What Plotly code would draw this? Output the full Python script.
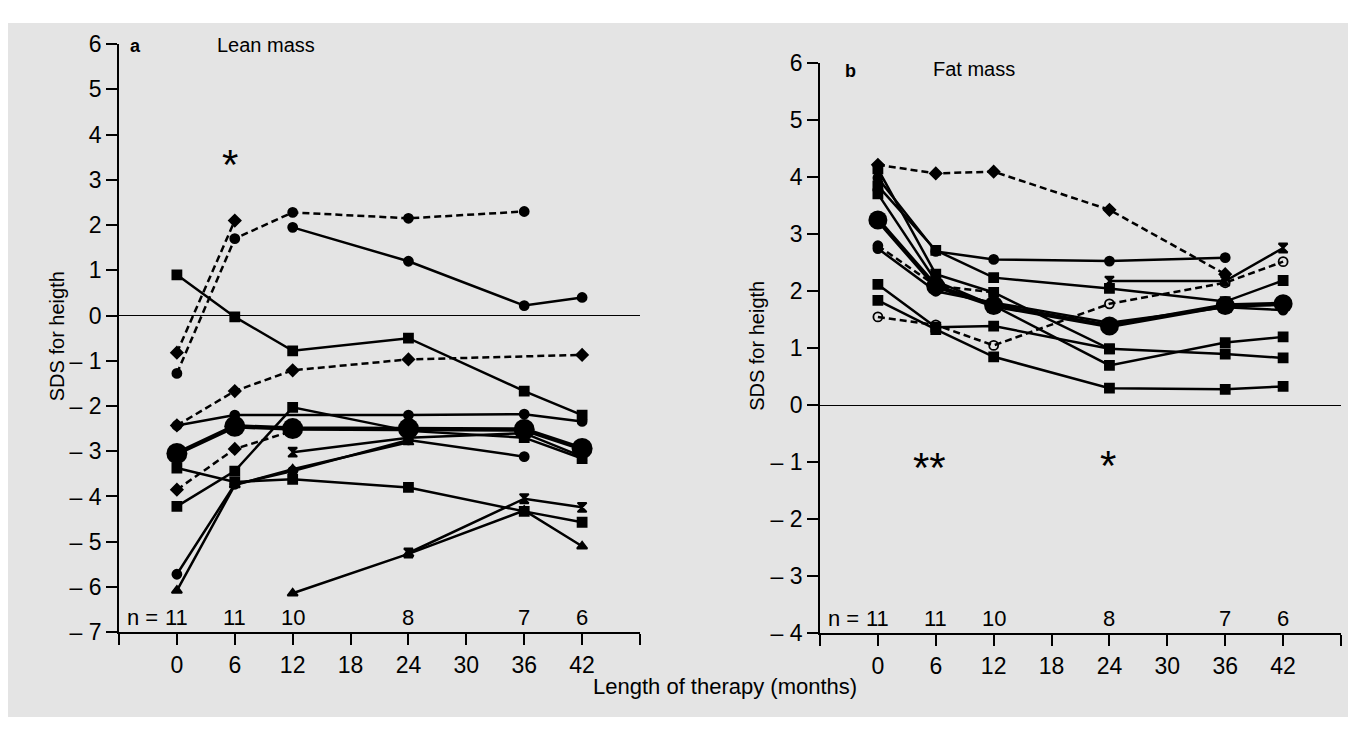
import plotly.graph_objects as go

# ---------------- data ----------------
months = [0, 6, 12, 24, 36, 42]

# Panel a: Lean mass (SDS for height)
lean_p1 = [-0.82, 2.1, None, None, None, None]
lean_p2 = [-1.28, 1.7, 2.28, 2.15, 2.3, None]
lean_p3 = [None, None, 1.95, 1.2, 0.22, 0.4]
lean_p4 = [0.9, -0.03, -0.78, -0.5, -1.67, -2.2]
lean_p5 = [-2.43, -1.67, -1.21, -0.97, None, -0.87]
lean_p6 = [-2.43, -2.2, None, -2.2, -2.18, -2.34]
lean_p7 = [-4.22, -3.44, -2.03, -2.55, -2.7, -3.16]
lean_p8 = [-3.85, -2.95, -2.55, None, None, None]
lean_p9 = [-3.37, -3.68, -3.62, -3.8, -4.33, -4.57]
lean_p10 = [-5.72, -3.73, -3.44, -2.75, -3.12, None]
lean_p11 = [-6.08, -3.75, -3.4, -2.8, None, None]
lean_p12 = [None, None, -6.14, -5.27, -4.31, -5.1]
lean_p13 = [None, None, None, -5.25, -4.05, -4.24]
lean_p14 = [None, None, -3.02, -2.7, -2.6, -3.12]
lean_mean = [-3.05, -2.45, -2.5, -2.5, -2.52, -2.94]

# Panel b: Fat mass (SDS for height)
fat_p1 = [4.22, 4.07, 4.1, 3.43, 2.3, None]
fat_p2 = [1.55, 1.41, 1.05, 1.78, 2.15, 2.52]
fat_p3 = [2.8, 2.1, 1.98, None, None, None]
fat_p4 = [3.99, 2.7, 2.56, 2.53, 2.59, None]
fat_p5 = [3.85, 2.72, 2.24, 2.05, 1.82, 2.19]
fat_p6 = [4.15, 2.3, 1.98, 0.99, 0.9, 0.83]
fat_p7 = [3.71, 2.18, 1.75, 0.7, 1.1, 1.2]
fat_p8 = [None, None, None, 2.18, 2.18, 2.76]
fat_p9 = [2.75, 2.0, 1.8, 1.45, 1.72, 1.67]
fat_p10 = [2.12, 1.37, 1.39, 0.99, None, None]
fat_p11 = [1.84, 1.33, 0.85, 0.3, 0.28, 0.33]
fat_mean = [3.25, 2.09, 1.75, 1.39, 1.75, 1.78]

n_counts = ["11", "11", "10", "8", "7", "6"]

x_tickvals = [-6, 0, 6, 12, 18, 24, 30, 36, 42, 48]
x_ticktext = ["", "0", "6", "12", "18", "24", "30", "36", "42", ""]
ya_tickvals = list(range(-7, 7))
yb_tickvals = list(range(-4, 7))


def ylab(v):
    return "\u2013 %d" % abs(v) if v < 0 else str(v)


ya_ticktext = [ylab(v) for v in ya_tickvals]
yb_ticktext = [ylab(v) for v in yb_tickvals]

# ---------------- styles ----------------
DASH = "7px,4px"
lean_series = [
    (lean_p1, "diamond", DASH), (lean_p2, "circle", DASH), (lean_p3, "circle", "solid"),
    (lean_p4, "square", "solid"), (lean_p5, "diamond", DASH), (lean_p6, "circle", "solid"),
    (lean_p7, "square", "solid"), (lean_p8, "diamond", DASH), (lean_p9, "square", "solid"),
    (lean_p10, "circle", "solid"), (lean_p11, "triangle-up", "solid"),
    (lean_p12, "triangle-up", "solid"), (lean_p13, "hourglass", "solid"),
    (lean_p14, "hourglass", "solid"),
]
fat_series = [
    (fat_p1, "diamond", DASH), (fat_p2, "circle-open", DASH), (fat_p3, "circle", DASH),
    (fat_p4, "circle", "solid"), (fat_p5, "square", "solid"), (fat_p6, "square", "solid"),
    (fat_p7, "square", "solid"), (fat_p8, "hourglass", "solid"), (fat_p9, "circle", "solid"),
    (fat_p10, "square", "solid"), (fat_p11, "square", "solid"),
]

fig = go.Figure()


def add_panel(series, mean, xa, ya, mean_size):
    for vals, sym, dash in series:
        fig.add_trace(go.Scatter(
            x=months, y=vals, mode="lines+markers", connectgaps=True,
            xaxis=xa, yaxis=ya, showlegend=False,
            line=dict(color="black", width=2.5, dash=dash),
            marker=dict(symbol=sym, size=9, color="black",
                        line=dict(color="black", width=1.8)),
        ))
    fig.add_trace(go.Scatter(
        x=months, y=mean, mode="lines+markers", xaxis=xa, yaxis=ya, showlegend=False,
        line=dict(color="black", width=4.5),
        marker=dict(symbol="circle", size=mean_size, color="black"),
    ))


add_panel(lean_series, lean_mean, "x", "y", 21)
add_panel(fat_series, fat_mean, "x2", "y2", 19)

# page body has an 8px margin; keep the figure inside the window (no scrollbars)
OX, OY = 8, 8
W, H = 1356 - 2 * OX, 738 - 2 * OY


def px(X):
    return (X - OX) / W


def py(Y):
    return 1 - (Y - OY) / H


FONT = "Liberation Sans, Arial, sans-serif"

axis_common = dict(
    showline=True, linecolor="black", linewidth=1.6, ticks="outside",
    ticklen=11, tickwidth=1.6, tickcolor="black", showgrid=False,
    tickfont=dict(family=FONT, size=23, color="black"), mirror=False,
)

fig.update_layout(
    width=W, height=H, margin=dict(l=0, r=0, t=0, b=0),
    paper_bgcolor="white", plot_bgcolor="rgba(0,0,0,0)",
    font=dict(family=FONT, color="black"),
    xaxis=dict(domain=[px(119), px(640)], range=[-6, 48], tickmode="array",
               tickvals=x_tickvals, ticktext=x_ticktext, zeroline=False,
               anchor="y", **axis_common),
    yaxis=dict(domain=[py(642), py(32)], range=[-7, 6], tickmode="array",
               tickvals=ya_tickvals, ticktext=ya_ticktext, zeroline=True,
               zerolinecolor="black", zerolinewidth=1.3, anchor="x", **axis_common),
    xaxis2=dict(domain=[px(820), px(1341)], range=[-6, 48], tickmode="array",
                tickvals=x_tickvals, ticktext=x_ticktext, zeroline=False,
                anchor="y2", **axis_common),
    yaxis2=dict(domain=[py(643), py(52)], range=[-4, 6], tickmode="array",
                tickvals=yb_tickvals, ticktext=yb_ticktext, zeroline=True,
                zerolinecolor="black", zerolinewidth=1.3, anchor="x2", **axis_common),
)

# gray scanned-page background
fig.add_shape(type="rect", xref="paper", yref="paper", x0=0, x1=1, y0=0,
              y1=py(10), fillcolor="#e4e4e4", line=dict(width=0), layer="below")

ann = []


def txt(x, y, s, xref, yref, size, **kw):
    d = dict(x=x, y=y, text=s, xref=xref, yref=yref, showarrow=False,
             xanchor="center", yanchor="middle",
             font=dict(family=FONT, size=size, color="black"))
    d.update(kw)
    ann.append(d)


# panel labels and titles
txt(-4.3, 5.96, "<b>a</b>", "x", "y", 18)
txt(9.2, 5.98, "Lean mass", "x", "y", 20)
txt(-2.8, 5.86, "<b>b</b>", "x2", "y2", 18)
txt(10.0, 5.9, "Fat mass", "x2", "y2", 20)

# n counts
for m, n in zip(months, n_counts):
    txt(m, -6.68, n, "x", "y", 22)
    txt(m, -3.75, n, "x2", "y2", 22)
txt(-3.6, -6.68, "n =", "x", "y", 22)
txt(-3.6, -3.75, "n =", "x2", "y2", 22)

# significance marks
txt(5.5, 3.35, "*", "x", "y", 42)
txt(5.3, -1.1, "**", "x2", "y2", 42)
txt(23.9, -1.05, "*", "x2", "y2", 42)

# axis titles
txt(px(57), py(335), "SDS for heigth", "paper", "paper", 20, textangle=-90)
txt(px(757), py(345), "SDS for heigth", "paper", "paper", 20, textangle=-90)
txt(px(725), py(698), "Length of therapy (months)", "paper", "paper", 22)

fig.update_layout(annotations=ann)
fig.write_html("out.html")
